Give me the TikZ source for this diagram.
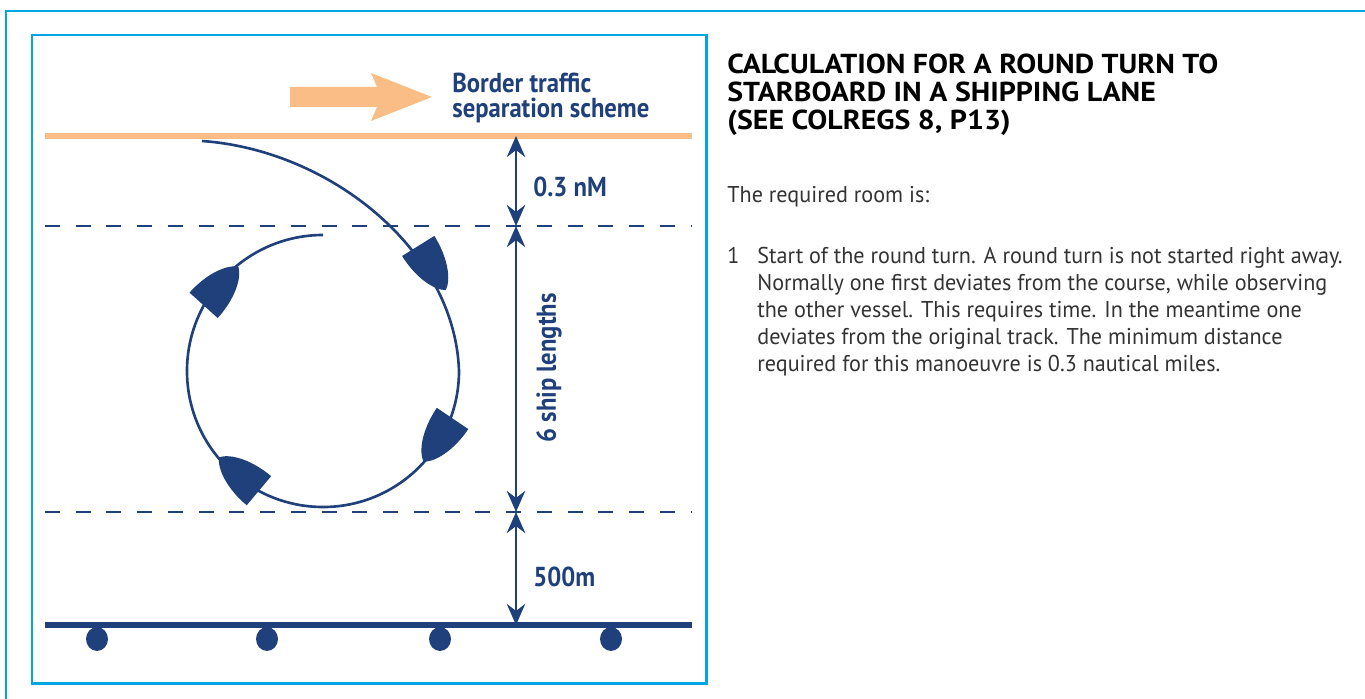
\documentclass[tikz,border=0pt]{standalone}
\usepackage{fontspec}
\setmainfont{PT Sans}
\newfontfamily\condfont{PT Sans}[FakeStretch=0.9]
\newfontfamily\bodyfont{PT Sans}[FakeStretch=0.97]
\newfontfamily\titlefont{PT Sans}[FakeStretch=1.09]
\usepackage{tikz}
\usetikzlibrary{arrows.meta, shapes.geometric}
\definecolor{navy}{RGB}{31,64,122}
\definecolor{sand}{RGB}{251,189,134}
\definecolor{frameblue}{RGB}{0,165,227}
\tikzset{
	dimtext/.style={
		inner sep=0pt,
		text=navy,
		font=\condfont\bfseries\fontsize{15.6}{14.7}\selectfont
	},
	bodytext/.style={
		inner sep=0pt,
		anchor=base west,
		text=black!80,
		font=\bodyfont\fontsize{13}{15.3}\selectfont
	},
	ship/.pic={
		\fill[navy] (-26,19) .. controls (0,19) and (20,10) .. (26,0)
			.. controls (20,-10) and (0,-19) .. (-26,-19) -- cycle;
	}
}

\begin{document}
\begin{tikzpicture}[x=0.02cm, y=-0.02cm]
	\tikzset{panel/.style={draw=frameblue, line width=1.7pt}}
	\tikzset{lane/.style={navy, line width=1.5pt, dash pattern=on 8.5pt off 9pt}}
	\tikzset{dim/.style={{Stealth[length=12pt,width=10.5pt,inset=4pt]}-{Stealth[length=12pt,width=10.5pt,inset=4pt]}, navy, line width=1.3pt}}
	\tikzset{track/.style={navy, line width=1.5pt}}
	\tikzset{buoy/.style={ellipse, fill=navy, inner sep=0pt, minimum width=12.5pt, minimum height=13.6pt}}
	
	\useasboundingbox (0,0) rectangle (1365,699);
	
	\draw[panel] (6,699) -- (6,11) -- (1365,11);
	\draw[panel] (32,35) rectangle (706,683);
	
	\fill[sand] (290,87) -- (377,87) -- (371,73) -- (432,97) -- (371,121) -- (377,107) -- (290,107) -- cycle;
	\node(scheme) at (452,118) [dimtext, anchor=base west, align=left] {Border traffic\\separation scheme};
	
	\draw[sand, line width=3.4pt] (45,136) -- (692,136);
	\draw[lane] (45,226) -- (692,226);
	\draw[lane] (45,512) -- (692,512);
	\draw[navy, line width=3.2pt] (45,625) -- (692,625);
	
	\node(b1) at (97,639) [buoy] {};
	\node(b2) at (267,639) [buoy] {};
	\node(b3) at (440,639) [buoy] {};
	\node(b4) at (611,639) [buoy] {};
	
	\coordinate(d0) at (516,136);
	\coordinate(d1) at (516,226);
	\coordinate(d2) at (516,512);
	\coordinate(d3) at (516,625);
	
	\draw[dim] (d0) -- (d1);
	\draw[dim] (d1) -- (d2);
	\draw[dim] (d2) -- (d3);
	
	\node(nm) at (533,187) [dimtext, anchor=west] {0.3 nM};
	\node(lengths) at (549,368) [dimtext, rotate=90] {6 ship lengths};
	\node(meters) at (533,577) [dimtext, anchor=west] {500m};
	
	\draw[track] (202,141) .. controls (330,150) and (455,250) .. (459,371) arc[start angle=0, end angle=270, radius=136];
	
	\pic[rotate=-58] at (432,268) {ship};
	\pic[rotate=-124] at (438,440) {ship};
	\pic[rotate=140] at (239,474) {ship};
	\pic[rotate=48] at (221,286) {ship};
	
	\node(title) at (727,130) [anchor=base west, inner sep=0pt, align=left, font=\titlefont\bfseries\fontsize{15.6}{16.2}\selectfont] {CALCULATION FOR A ROUND TURN TO\\STARBOARD IN A SHIPPING LANE\\(SEE COLREGS 8, P13)};
	\node(intro) at (727,203) [bodytext] {The required room is:};
	\node(num) at (727,263) [bodytext] {1};
	\node(item) at (757,371) [bodytext, align=left] {Start of the round turn. A round turn is not started right away.\\Normally one first deviates from the course, while observing\\the other vessel. This requires time. In the meantime one\\deviates from the original track. The minimum distance\\required for this manoeuvre is 0.3 nautical miles.};
	
\end{tikzpicture}
\end{document}
